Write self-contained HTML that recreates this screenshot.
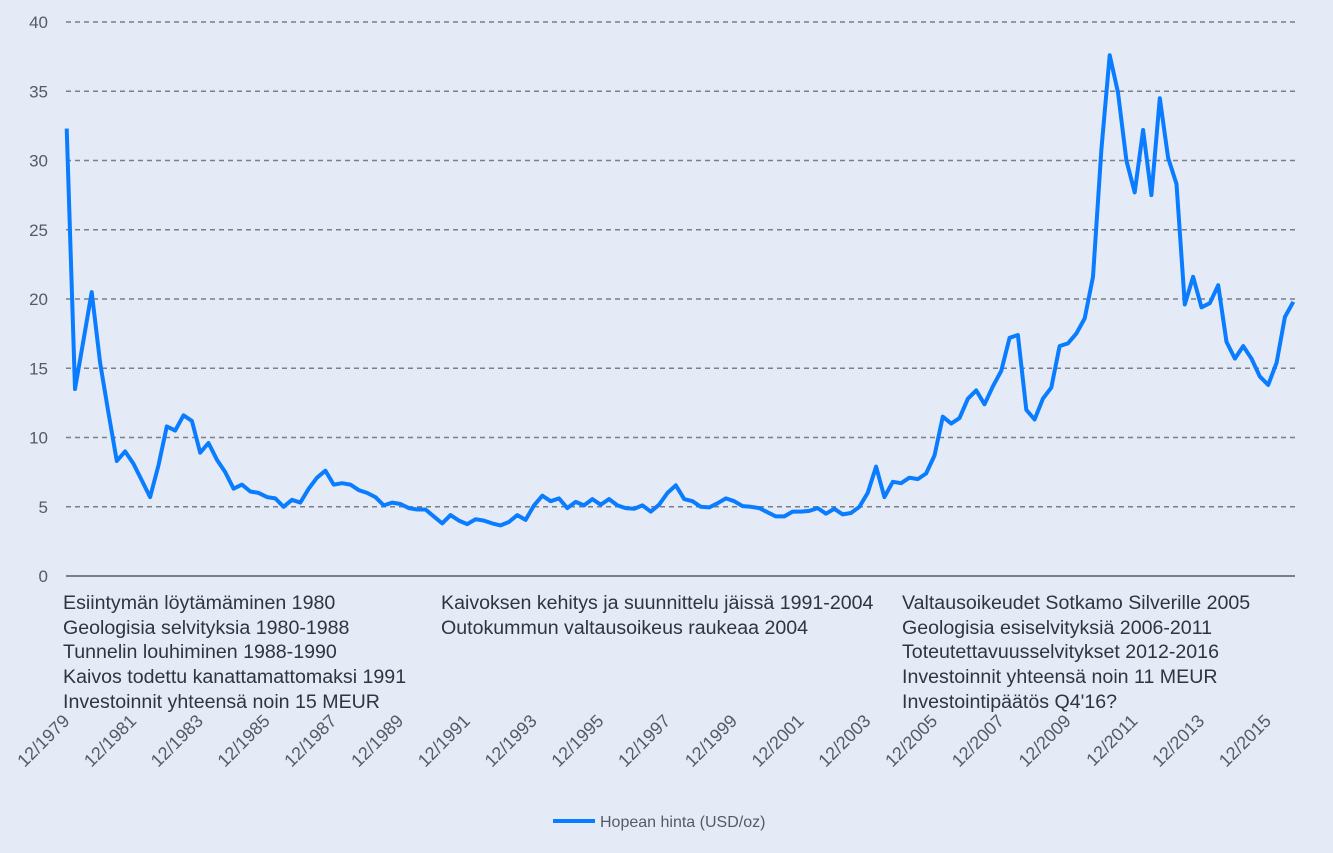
<!DOCTYPE html>
<html><head><meta charset="utf-8"><style>
html,body{margin:0;padding:0;background:#e4ebf6;}
svg{display:block;font-family:"Liberation Sans",sans-serif;}
</style></head><body>
<svg id="chart" width="1333" height="853" viewBox="0 0 1333 853">
<rect x="0" y="0" width="1333" height="853" fill="#e4ebf6"/>
<g id="grid"></g>
<g id="yticks"></g>
<g id="xticks"></g>
<g id="series"></g>
<g font-size="19.6" fill="#2d3540">
<text x="63" y="609">Esiintymän löytämäminen 1980</text>
<text x="63" y="634">Geologisia selvityksia 1980-1988</text>
<text x="63" y="658">Tunnelin louhiminen 1988-1990</text>
<text x="63" y="683">Kaivos todettu kanattamattomaksi 1991</text>
<text x="63" y="708">Investoinnit yhteensä noin 15 MEUR</text>
<text x="441" y="609">Kaivoksen kehitys ja suunnittelu jäissä 1991-2004</text>
<text x="441" y="634">Outokummun valtausoikeus raukeaa 2004</text>
<text x="902" y="609">Valtausoikeudet Sotkamo Silverille 2005</text>
<text x="902" y="634">Geologisia esiselvityksiä 2006-2011</text>
<text x="902" y="658">Toteutettavuusselvitykset 2012-2016</text>
<text x="902" y="683">Investoinnit yhteensä noin 11 MEUR</text>
<text x="902" y="708">Investointipäätös Q4'16?</text>
</g>
<g>
<line x1="553" y1="821" x2="595" y2="821" stroke="#0a7cff" stroke-width="4"/>
<text x="600" y="827" font-size="16" fill="#555b66">Hopean hinta (USD/oz)</text>
</g>
</svg>
<script>
const yTickValues = [0,5,10,15,20,25,30,35,40];
const xTickLabels = ["12/1979","12/1981","12/1983","12/1985","12/1987","12/1989","12/1991","12/1993","12/1995","12/1997","12/1999","12/2001","12/2003","12/2005","12/2007","12/2009","12/2011","12/2013","12/2015"];
const prices = [32.3,13.5,17.0,20.5,15.4,11.8,8.3,9.0,8.1,6.9,5.7,8.0,10.8,10.5,11.6,11.2,8.9,9.6,8.4,7.5,
6.3,6.6,6.1,6.0,5.7,5.6,5.0,5.5,5.3,6.3,7.1,7.6,6.6,6.7,6.6,6.2,6.0,5.7,5.1,5.3,
5.2,4.9,4.8,4.8,4.3,3.8,4.4,4.0,3.75,4.1,4.0,3.8,3.65,3.9,4.4,4.05,5.1,5.8,5.4,5.6,
4.9,5.35,5.1,5.55,5.15,5.55,5.1,4.9,4.85,5.1,4.65,5.15,6.0,6.55,5.55,5.4,5.0,4.95,5.25,5.6,
5.4,5.05,5.0,4.9,4.6,4.3,4.3,4.65,4.65,4.7,4.9,4.5,4.85,4.45,4.55,5.0,6.0,7.9,5.7,6.8,
6.7,7.1,7.0,7.4,8.7,11.5,11.0,11.4,12.8,13.4,12.4,13.7,14.8,17.2,17.4,12.0,11.3,12.8,13.6,16.6,
16.8,17.5,18.6,21.6,30.8,37.6,34.9,30.0,27.7,32.2,27.5,34.5,30.2,28.3,19.6,21.6,19.4,19.7,21.0,16.9,
15.7,16.6,15.7,14.4,13.8,15.4,18.7,19.8];
const NS="http://www.w3.org/2000/svg";
const X0=66.7, STEP=8.344, Y0=576, YPX=13.85;
function xs(i){return X0+i*STEP;}
function ys(v){return Y0-v*YPX;}
function mk(tag,attrs,parent){const e=document.createElementNS(NS,tag);for(const k in attrs)e.setAttribute(k,attrs[k]);parent.appendChild(e);return e;}
const grid=document.getElementById('grid'), yt=document.getElementById('yticks'), xt=document.getElementById('xticks'), ser=document.getElementById('series');
yTickValues.forEach(v=>{
  const l=mk('line',{x1:66,x2:1295,y1:ys(v),y2:ys(v),stroke:'#7a7f88','stroke-width':v===0?2:1.5,'stroke-dasharray':v===0?'':'5 4'},grid);
  
  
  const t=mk('text',{x:48,y:ys(v)+6,'text-anchor':'end','font-size':17,fill:'#555b66'},yt);
  t.textContent=v;
  
  
});
xTickLabels.forEach((lab,i)=>{
  const x=xs(i*8)+4, y=722;
  const t=mk('text',{x:x,y:y,'text-anchor':'end','font-size':18,fill:'#555b66',transform:'rotate(-45 '+x+' '+y+')'},xt);
  t.textContent=lab;
  
  
});
const pts=prices.map((v,i)=>xs(i).toFixed(1)+','+ys(v).toFixed(1)).join(' ');
const line=mk('polyline',{points:pts,fill:'none',stroke:'#0a7cff','stroke-width':4,'stroke-linejoin':'round'},ser);


</script>
</body></html>
